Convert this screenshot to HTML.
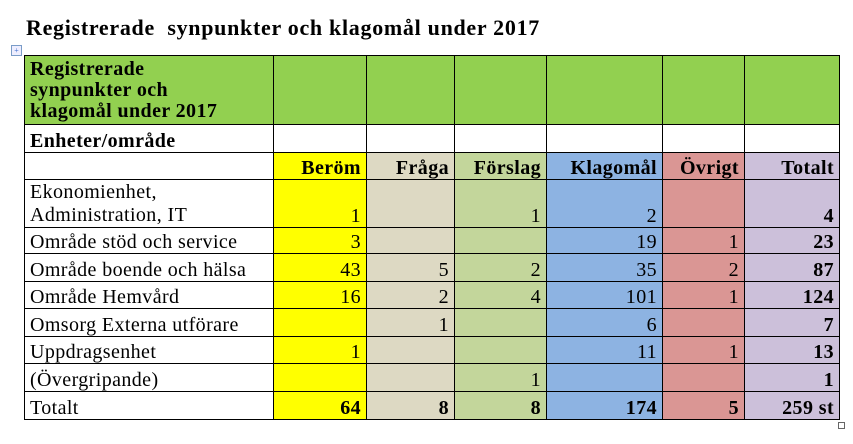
<!DOCTYPE html>
<html><head><meta charset="utf-8"><style>
body{margin:0;width:853px;height:444px;background:#fff;position:relative;font-family:"Liberation Serif",serif;overflow:hidden}
#title{position:absolute;left:26px;top:15px;font-size:22px;letter-spacing:0.7px;font-weight:bold;color:#000;white-space:nowrap}
#move{position:absolute;left:11px;top:45px;width:9px;height:9px;border:1px solid #7a9cc8;font-size:8px;line-height:9px;text-align:center;color:#36c;background:#eef}
#resize{position:absolute;left:838px;top:422px;width:5px;height:5px;border:1px solid #666}
table{position:absolute;left:24px;top:55px;border-collapse:collapse;table-layout:fixed;width:816px}
td{border:1px solid #000;padding:0 5px;font-size:20px;letter-spacing:0.4px;line-height:22px;vertical-align:bottom;text-align:right;overflow:hidden;white-space:nowrap}
td.l{text-align:left}
td.b{font-weight:bold}
.g{background:#92d050}.y{background:#ffff00}.t{background:#ddd9c3}.lg{background:#c3d69b}.bl{background:#8db3e2}.r{background:#da9694}.p{background:#ccc0da}
</style></head><body>
<div id="title">Registrerade&nbsp; synpunkter och klagomål under 2017</div>
<div id="move">+</div>
<table>
<colgroup><col style="width:249px"><col style="width:93px"><col style="width:88px"><col style="width:92px"><col style="width:116px"><col style="width:82px"><col style="width:95px"></colgroup>
<tr style="height:69px"><td class="l b g" style="line-height:21px;vertical-align:middle">Registrerade<br>synpunkter och<br>klagomål under 2017</td><td class="g"></td><td class="g"></td><td class="g"></td><td class="g"></td><td class="g"></td><td class="g"></td></tr>
<tr style="height:28px"><td class="l b">Enheter/område</td><td></td><td></td><td></td><td></td><td></td><td></td></tr>
<tr style="height:27px"><td></td><td class="b y">Beröm</td><td class="b t">Fråga</td><td class="b lg">Förslag</td><td class="b bl">Klagomål</td><td class="b r">Övrigt</td><td class="b p">Totalt</td></tr>
<tr style="height:48px"><td class="l" style="line-height:23px">Ekonomienhet,<br>Administration, IT</td><td class="y">1</td><td class="t"></td><td class="lg">1</td><td class="bl">2</td><td class="r"></td><td class="p b">4</td></tr>
<tr style="height:26px"><td class="l">Område stöd och service</td><td class="y">3</td><td class="t"></td><td class="lg"></td><td class="bl">19</td><td class="r">1</td><td class="p b">23</td></tr>
<tr style="height:28px"><td class="l">Område boende och hälsa</td><td class="y">43</td><td class="t">5</td><td class="lg">2</td><td class="bl">35</td><td class="r">2</td><td class="p b">87</td></tr>
<tr style="height:27px"><td class="l">Område Hemvård</td><td class="y">16</td><td class="t">2</td><td class="lg">4</td><td class="bl">101</td><td class="r">1</td><td class="p b">124</td></tr>
<tr style="height:28px"><td class="l">Omsorg Externa utförare</td><td class="y"></td><td class="t">1</td><td class="lg"></td><td class="bl">6</td><td class="r"></td><td class="p b">7</td></tr>
<tr style="height:27px"><td class="l">Uppdragsenhet</td><td class="y">1</td><td class="t"></td><td class="lg"></td><td class="bl">11</td><td class="r">1</td><td class="p b">13</td></tr>
<tr style="height:28px"><td class="l">(Övergripande)</td><td class="y"></td><td class="t"></td><td class="lg">1</td><td class="bl"></td><td class="r"></td><td class="p b">1</td></tr>
<tr style="height:28px"><td class="l">Totalt</td><td class="y b">64</td><td class="t b">8</td><td class="lg b">8</td><td class="bl b">174</td><td class="r b">5</td><td class="p b">259 st</td></tr>
</table>
<div id="resize"></div>
</body></html>
